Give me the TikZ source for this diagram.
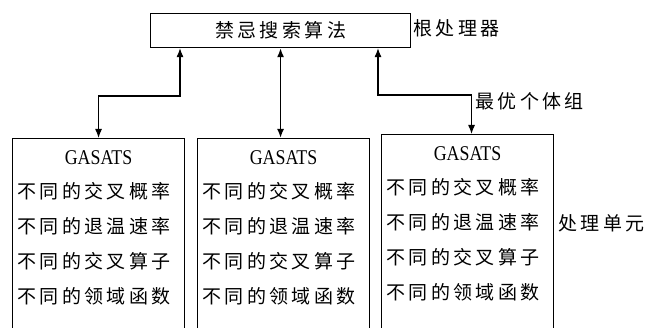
\documentclass[tikz,border=0pt]{standalone}
\usepackage{fontspec}
\newfontfamily\cjk[LetterSpace=18]{Noto Sans CJK SC}
\newfontfamily\gsfont[FakeStretch=0.85]{Liberation Serif}
\usetikzlibrary{arrows.meta}
\begin{document}
\begin{tikzpicture}[x=1pt,y=-1pt,
  box/.style={draw, line width=1.1pt, inner sep=0pt},
  txt/.style={font=\cjk\fontsize{19}{19}\selectfont, inner sep=0pt, anchor=west},
  gs/.style={font=\gsfont\fontsize{21}{21}\selectfont, inner sep=0pt},
  link/.style={line width=1.1pt, {Latex[length=9pt,width=7pt]}-{Latex[length=9pt,width=7pt]}}]
\useasboundingbox (0,0) rectangle (650,328);
% root box
\node[box, anchor=north west, minimum width=260pt, minimum height=34pt,
      font=\cjk\fontsize{19}{19}\selectfont] (root) at (150,13) {禁忌搜索算法};
\node[txt] (rootlbl) at (413,28) {根处理器};
% processing units
\foreach \i/\x/\y in {1/12/138, 2/197/138, 3/381/134} {
  \node[box, anchor=north west, minimum width=172pt, minimum height=205pt] (u\i) at (\x,\y) {};
  \node[gs] (u\i-g) at ([yshift=-20pt]u\i.north) {GASATS};
  \node[txt] (u\i-a) at ([xshift=5pt,yshift=-53pt]u\i.north west) {不同的交叉概率};
  \node[txt] (u\i-b) at ([xshift=5pt,yshift=-88pt]u\i.north west) {不同的退温速率};
  \node[txt] (u\i-c) at ([xshift=5pt,yshift=-123pt]u\i.north west) {不同的交叉算子};
  \node[txt] (u\i-d) at ([xshift=5pt,yshift=-158pt]u\i.north west) {不同的领域函数};
}
\node[txt] (pu) at (558,223) {处理单元};
% connectors
\coordinate (j1) at (180,96);
\draw[link] (u1.north) |- (j1) -- (j1 |- root.south);
\draw[link, line width=1.7pt] (root.south |- u2.north) -- (root.south);
\coordinate (j2) at (378,95);
\coordinate (u3top) at ([xshift=4pt]u3.north);
\draw[link] (u3top) |- (j2) -- (j2 |- root.south);
\node[txt] (best) at (475,101) {最优个体组};
\end{tikzpicture}
\end{document}
